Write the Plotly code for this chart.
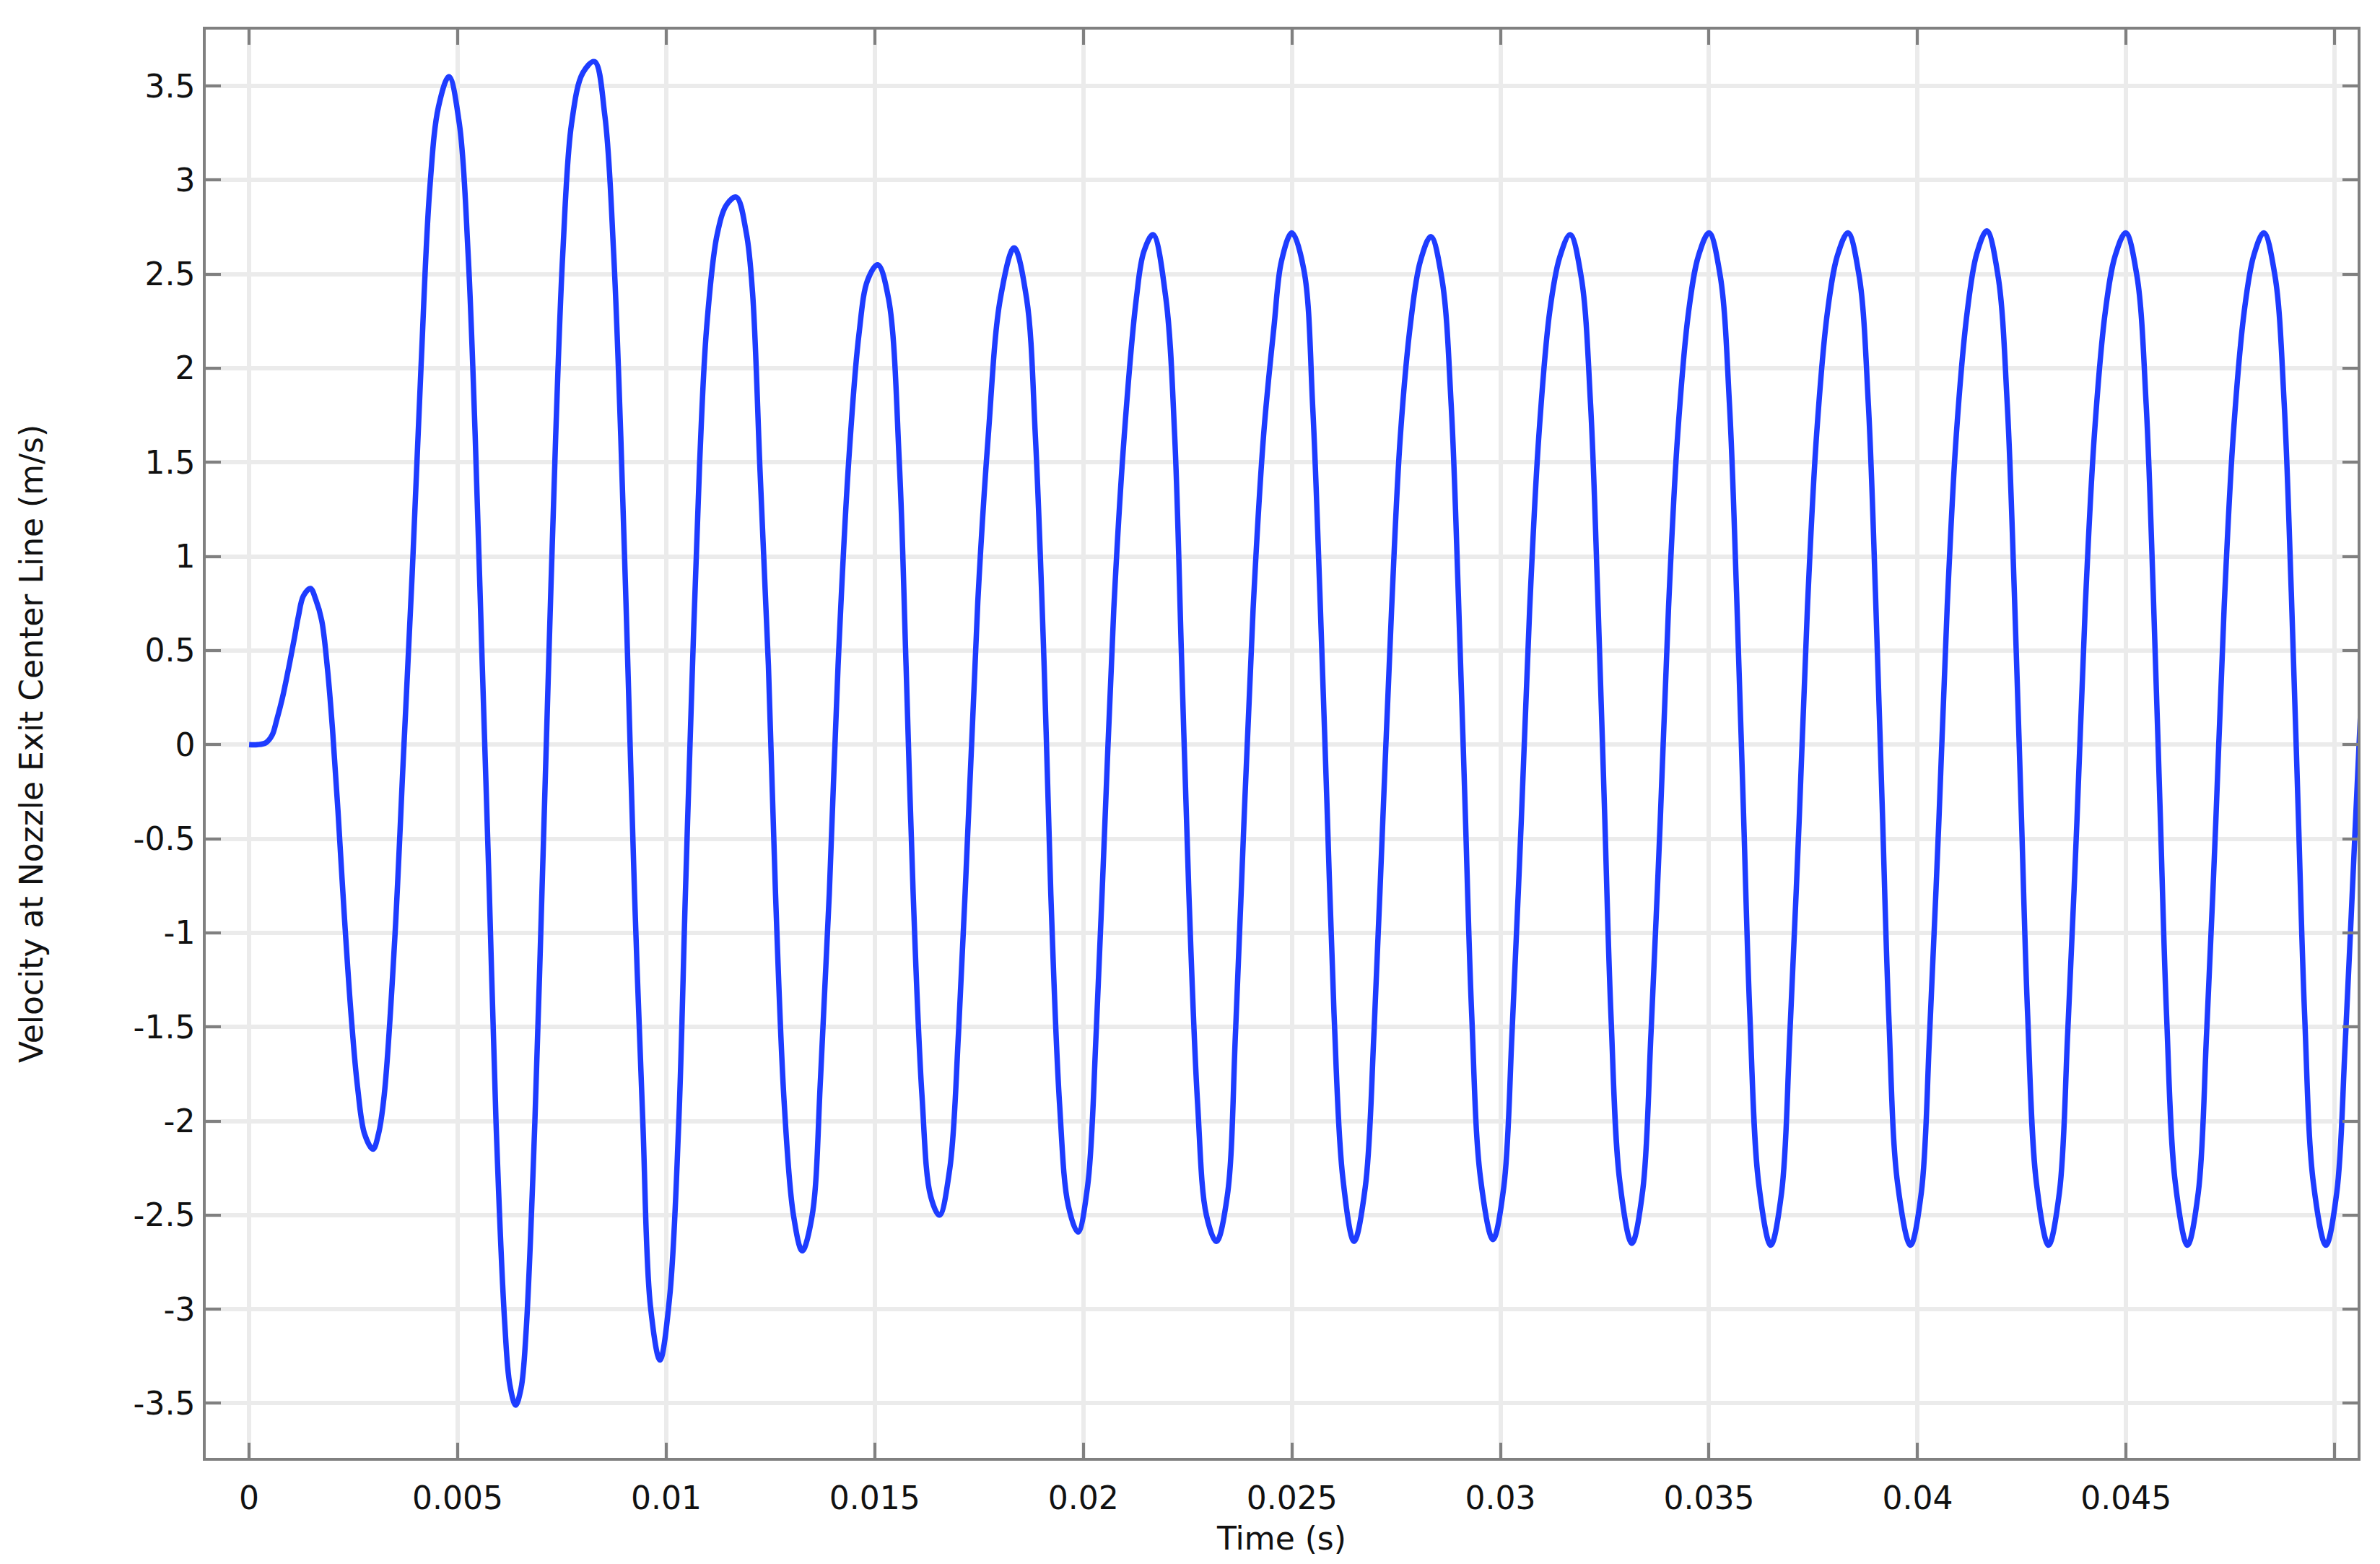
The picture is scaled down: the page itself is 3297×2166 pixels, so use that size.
import plotly.graph_objects as go

# time (s) and centre-line velocity (m/s), one half-cycle per row
time_s = [
    0.0, 0.0002, 0.0004, 0.00055, 0.00066, 0.0008, 0.00095, 0.00108, 0.00118, 0.0013, 0.00147,
    0.0016, 0.00174, 0.00188, 0.002, 0.00213, 0.00228, 0.00245, 0.0026, 0.00277, 0.00297,
    0.0031, 0.00324, 0.00349, 0.0037, 0.00391, 0.00412, 0.00433, 0.00454, 0.00479,
    0.00504, 0.00525, 0.00542, 0.00559, 0.00576, 0.00592, 0.00613, 0.00625, 0.00639,
    0.00652, 0.00664, 0.00685, 0.00702, 0.00718, 0.00735, 0.00752, 0.00773, 0.008, 0.00828,
    0.00853, 0.00874, 0.00891, 0.00908, 0.00924, 0.00944, 0.00962, 0.00985,
    0.01008, 0.0103, 0.01046, 0.01063, 0.0108, 0.01097, 0.01122, 0.01145, 0.01168,
    0.01192, 0.01207, 0.01225, 0.01245, 0.01262, 0.01283, 0.01305, 0.01326,
    0.0135, 0.0137, 0.01391, 0.01412, 0.01437, 0.01462, 0.01483, 0.01507,
    0.01533, 0.01559, 0.01575, 0.01592, 0.01613, 0.01634, 0.01655,
    0.0168, 0.01701, 0.01726, 0.01747, 0.01772, 0.01801, 0.01834,
    0.01864, 0.01885, 0.01906, 0.01922, 0.01943, 0.01964, 0.01987,
    0.0201, 0.02031, 0.02052, 0.02073, 0.02098, 0.02127, 0.02145, 0.02167,
    0.02198, 0.02219, 0.02236, 0.02253, 0.02274, 0.02295, 0.02319,
    0.02345, 0.02365, 0.02386, 0.02407, 0.02432, 0.02457, 0.02475, 0.025,
    0.02529, 0.0255, 0.02567, 0.02584, 0.02601, 0.02622, 0.02649,
    0.02676, 0.02697, 0.02718, 0.02739, 0.0276, 0.02785, 0.02808, 0.02833,
    0.0286, 0.02882, 0.02899, 0.02915, 0.02931, 0.02952, 0.02982,
    0.03008, 0.03028, 0.0305, 0.0307, 0.03092, 0.03118, 0.03142, 0.03167,
    0.03194, 0.03216, 0.03233, 0.03249, 0.03265, 0.03286, 0.03315,
    0.03341, 0.03361, 0.03383, 0.03403, 0.03425, 0.03451, 0.03475, 0.035,
    0.03527, 0.03549, 0.03566, 0.03582, 0.03598, 0.03619, 0.03648,
    0.03674, 0.03694, 0.03716, 0.03736, 0.03758, 0.03784, 0.03808, 0.03833,
    0.0386, 0.03882, 0.03899, 0.03915, 0.03931, 0.03952, 0.03983,
    0.04009, 0.04029, 0.04051, 0.04071, 0.04093, 0.04119, 0.04142, 0.04166,
    0.04193, 0.04215, 0.04232, 0.04248, 0.04264, 0.04285, 0.04314,
    0.0434, 0.0436, 0.04382, 0.04402, 0.04424, 0.0445, 0.04474, 0.04499,
    0.04526, 0.04548, 0.04565, 0.04581, 0.04597, 0.04618, 0.04647,
    0.04673, 0.04693, 0.04715, 0.04735, 0.04757, 0.04783, 0.04806, 0.0483,
    0.04857, 0.04879, 0.04896, 0.04912, 0.04928, 0.04949, 0.04979,
    0.05005, 0.05025, 0.05048, 0.0507,
]
velocity = [
    0.0, 0.0, 0.01, 0.05, 0.13, 0.25, 0.41, 0.56, 0.68, 0.79, 0.83,
    0.77, 0.66, 0.40, 0.08, -0.35, -0.90, -1.45, -1.82, -2.07, -2.15,
    -2.07, -1.86, -1.04, -0.06, 0.91, 2.0, 2.95, 3.39, 3.55,
    3.30, 2.61, 1.64, 0.42, -0.79, -2.01, -3.08, -3.40, -3.51,
    -3.42, -3.12, -2.01, -0.79, 0.42, 1.64, 2.61, 3.30, 3.57, 3.63,
    3.34, 2.61, 1.64, 0.42, -0.79, -2.01, -2.98, -3.27,
    -2.94, -2.01, -0.79, 0.42, 1.49, 2.22, 2.71, 2.87, 2.91,
    2.72, 2.40, 1.45, 0.42, -0.79, -1.91, -2.50, -2.69,
    -2.50, -1.77, -0.79, 0.42, 1.49, 2.18, 2.47, 2.55,
    2.37, 1.49, 0.42, -0.79, -1.86, -2.40, -2.50,
    -2.25, -1.52, -0.31, 0.76, 1.64, 2.37, 2.64,
    2.37, 1.64, 0.42, -0.79, -1.91, -2.45, -2.59,
    -2.35, -1.52, -0.40, 0.72, 1.64, 2.37, 2.62, 2.71,
    2.37, 1.64, 0.42, -0.79, -1.91, -2.50, -2.64,
    -2.40, -1.52, -0.36, 0.72, 1.64, 2.22, 2.57, 2.72,
    2.52, 1.79, 0.81, -0.31, -1.43, -2.30, -2.64,
    -2.35, -1.52, -0.40, 0.72, 1.64, 2.25, 2.57, 2.70,
    2.47, 1.80, 0.80, -0.31, -1.43, -2.30, -2.63,
    -2.35, -1.52, -0.40, 0.72, 1.64, 2.30, 2.59, 2.71,
    2.48, 1.81, 0.81, -0.31, -1.44, -2.32, -2.65,
    -2.37, -1.53, -0.41, 0.73, 1.65, 2.30, 2.60, 2.72,
    2.49, 1.81, 0.81, -0.31, -1.44, -2.33, -2.66,
    -2.38, -1.53, -0.41, 0.73, 1.65, 2.30, 2.60, 2.72,
    2.49, 1.81, 0.81, -0.31, -1.44, -2.33, -2.66,
    -2.38, -1.53, -0.41, 0.73, 1.65, 2.30, 2.61, 2.73,
    2.49, 1.81, 0.81, -0.31, -1.44, -2.33, -2.66,
    -2.38, -1.53, -0.41, 0.73, 1.65, 2.30, 2.60, 2.72,
    2.49, 1.81, 0.81, -0.31, -1.44, -2.33, -2.66,
    -2.38, -1.53, -0.41, 0.73, 1.65, 2.30, 2.60, 2.72,
    2.49, 1.81, 0.81, -0.31, -1.44, -2.33, -2.66,
    -2.38, -1.6, -0.5, 0.55,
]
assert len(time_s) == len(velocity)

x_ticks = [0, 0.005, 0.01, 0.015, 0.02, 0.025, 0.03, 0.035, 0.04, 0.045, 0.05]
x_labels = ["0", "0.005", "0.01", "0.015", "0.02", "0.025", "0.03", "0.035", "0.04", "0.045", ""]
y_ticks = [3.5, 3, 2.5, 2, 1.5, 1, 0.5, 0, -0.5, -1, -1.5, -2, -2.5, -3, -3.5]
y_labels = ["3.5", "3", "2.5", "2", "1.5", "1", "0.5", "0", "-0.5", "-1", "-1.5", "-2", "-2.5", "-3", "-3.5"]

FONT = "DejaVu Sans"
AXIS_GREY = "#808080"
TEXT = "#111111"

fig = go.Figure()
fig.add_trace(go.Scatter(x=time_s, y=velocity, mode="lines",
                         line=dict(color="#1e3cff", width=7.5, shape="spline", smoothing=1.0),
                         showlegend=False, hoverinfo="skip"))

axis_common = dict(
    showline=True, linecolor=AXIS_GREY, linewidth=3.5, mirror="ticks",
    ticks="inside", ticklen=21, tickwidth=3.5, tickcolor=AXIS_GREY,
    showgrid=True, gridcolor="#ebebeb", gridwidth=6, zeroline=False,
    tickfont=dict(family=FONT, size=44, color=TEXT),
)

fig.update_xaxes(range=[-0.00104, 0.05055], tickvals=x_ticks, ticktext=x_labels,
                 title=dict(text="Time (s)", font=dict(family=FONT, size=44, color=TEXT), standoff=18),
                 ticklabelstandoff=14, **axis_common)
fig.update_yaxes(range=[-3.79, 3.80], tickvals=y_ticks, ticktext=y_labels,
                 title=dict(text="Velocity at Nozzle Exit Center Line (m/s)",
                            font=dict(family=FONT, size=44, color=TEXT), standoff=112),
                 ticklabelstandoff=2, **axis_common)

# the page body adds a small offset, so the figure is sized to sit inside the window
fig.update_layout(width=3289, height=2158,
                  margin=dict(l=277, r=31, t=33, b=147),
                  paper_bgcolor="white", plot_bgcolor="white",
                  font=dict(family=FONT, color=TEXT))

fig.write_html("out.html")
